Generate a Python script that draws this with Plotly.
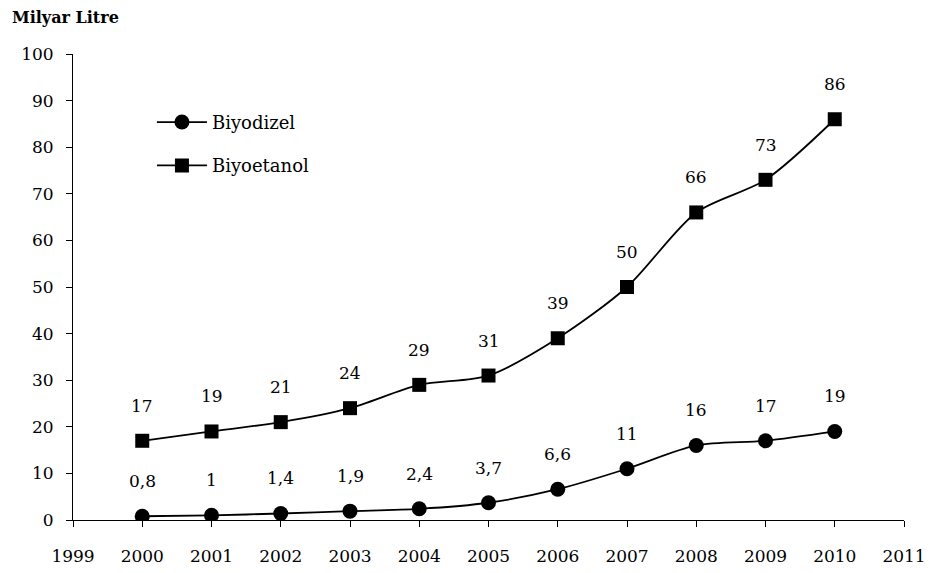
import plotly.graph_objects as go

years = [2000, 2001, 2002, 2003, 2004, 2005, 2006, 2007, 2008, 2009, 2010]
biyodizel = [0.8, 1, 1.4, 1.9, 2.4, 3.7, 6.6, 11, 16, 17, 19]
biyodizel_labels = ["0,8", "1", "1,4", "1,9", "2,4", "3,7", "6,6", "11", "16", "17", "19"]
biyoetanol = [17, 19, 21, 24, 29, 31, 39, 50, 66, 73, 86]
biyoetanol_labels = ["17", "19", "21", "24", "29", "31", "39", "50", "66", "73", "86"]
x_ticks = list(range(1999, 2012))
y_ticks = list(range(0, 101, 10))

FONT = "DejaVu Serif"
FS = 17

fig = go.Figure()
fig.add_trace(go.Scatter(
    x=years, y=biyodizel, name="Biyodizel", mode="lines+markers",
    line=dict(color="black", width=1.8, shape="spline", smoothing=0.8),
    marker=dict(symbol="circle", size=15, color="black"),
    legendgroup="a",
))
fig.add_trace(go.Scatter(
    x=years, y=biyoetanol, name="Biyoetanol", mode="lines+markers",
    line=dict(color="black", width=1.8, shape="spline", smoothing=0.8),
    marker=dict(symbol="square", size=14, color="black"),
    legendgroup="b",
))

for xs, ys, labels in [(years, biyodizel, biyodizel_labels), (years, biyoetanol, biyoetanol_labels)]:
    for x, y, t in zip(xs, ys, labels):
        fig.add_annotation(x=x, y=y, text=t, showarrow=False, yshift=35,
                           xanchor="center", yanchor="middle",
                           font=dict(family=FONT, size=FS, color="black"))

# the page body has an 8px default margin, so compensate
OFF = 8
W, H = 932 - OFF, 573 - OFF
L, R, T, B = 73 - OFF, 28, 54 - OFF, 53
fig.add_annotation(x=-(L - (10 - OFF)) / (W - L - R), y=1 + (T - (17 - OFF)) / (H - T - B),
                   xref="paper", yref="paper", text="<b>Milyar Litre</b>",
                   showarrow=False, xanchor="left", yanchor="middle",
                   font=dict(family=FONT, size=16, color="black"))

fig.update_layout(
    width=W, height=H,
    margin=dict(l=L, r=R, t=T, b=B, autoexpand=False),
    paper_bgcolor="white", plot_bgcolor="white",
    font=dict(family=FONT, size=FS, color="black"),
    showlegend=True,
    legend=dict(x=0.095, y=0.893, xanchor="left", yanchor="top",
                traceorder="grouped", tracegroupgap=17,
                bgcolor="rgba(0,0,0,0)", font=dict(family=FONT, size=18),
                itemwidth=50),
    xaxis=dict(range=[1999, 2011], tickvals=x_ticks, ticktext=[str(v) for v in x_ticks],
               showline=True, linecolor="black", linewidth=1, ticks="outside",
               ticklen=6, tickcolor="black", showgrid=False, zeroline=False,
               automargin=False,
               ticklabelstandoff=15, tickfont=dict(family=FONT, size=FS)),
    yaxis=dict(range=[0, 100], tickvals=y_ticks, showline=True, linecolor="black",
               linewidth=1, ticks="outside", ticklen=6, tickcolor="black",
               showgrid=False, zeroline=False, ticklabelstandoff=9, automargin=False,
               tickfont=dict(family=FONT, size=FS)),
)

fig.write_html("out.html")
